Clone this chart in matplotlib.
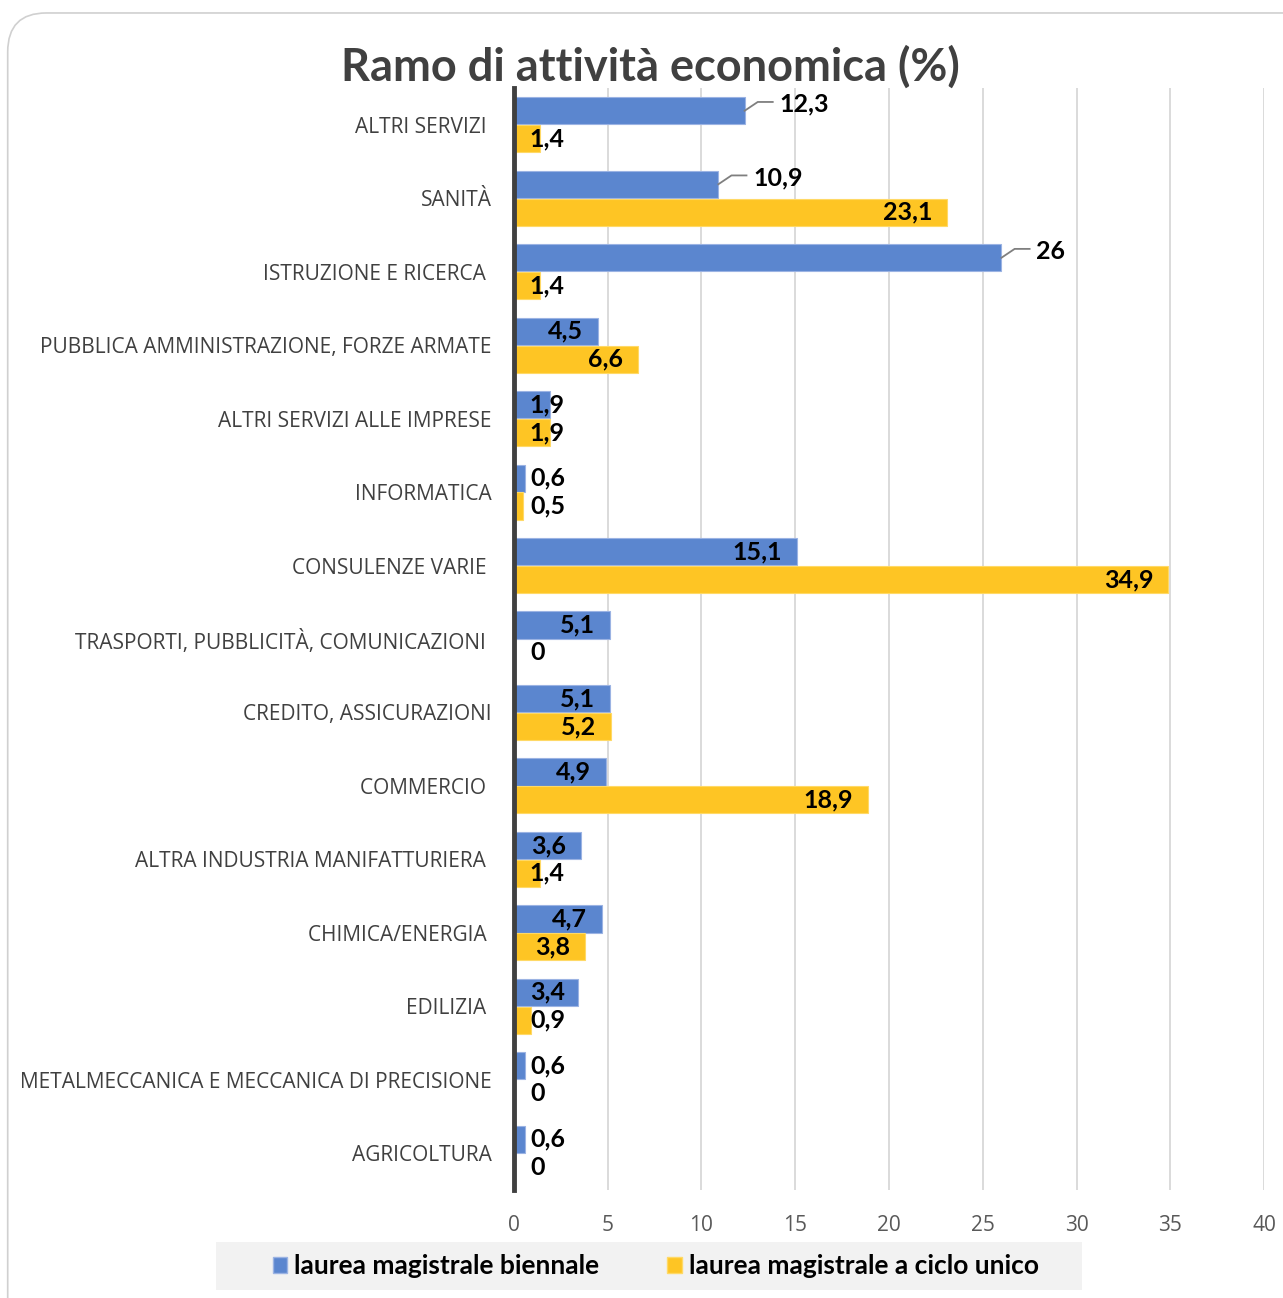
import matplotlib
matplotlib.use('Agg')
import matplotlib.pyplot as plt
from matplotlib.patches import FancyBboxPatch, Rectangle
import numpy as np

categories = ['ALTRI SERVIZI ', 'SANITÀ', 'ISTRUZIONE E RICERCA ',
              'PUBBLICA AMMINISTRAZIONE, FORZE ARMATE', 'ALTRI SERVIZI ALLE IMPRESE',
              'INFORMATICA', 'CONSULENZE VARIE ', 'TRASPORTI, PUBBLICITÀ, COMUNICAZIONI ',
              'CREDITO, ASSICURAZIONI', 'COMMERCIO ', 'ALTRA INDUSTRIA MANIFATTURIERA ',
              'CHIMICA/ENERGIA ', 'EDILIZIA ', 'METALMECCANICA E MECCANICA DI PRECISIONE',
              'AGRICOLTURA']
biennale = [12.3, 10.9, 26, 4.5, 1.9, 0.6, 15.1, 5.1, 5.1, 4.9, 3.6, 4.7, 3.4, 0.6, 0.6]
ciclo_unico = [1.4, 23.1, 1.4, 6.6, 1.9, 0.5, 34.9, 0, 5.2, 18.9, 1.4, 3.8, 0.9, 0, 0]
callouts = [0, 1, 2]  # blue labels drawn outside with leader line
xticks = [0, 5, 10, 15, 20, 25, 30, 35, 40]

BLUE = '#5B86CF'
YELLOW = '#FEC524'
TXT = '#404040'
LBL = 18

fig = plt.figure(figsize=(12.83, 12.98), dpi=100)
fig.patch.set_facecolor('white')

# rounded chart border + legend background (behind the axes)
fig.add_artist(FancyBboxPatch((0.006, -0.05), 1.05, 1.04, boxstyle='round,pad=0,rounding_size=0.03',
                              transform=fig.transFigure, facecolor='white',
                              edgecolor='#d0d0d0', linewidth=1.2, zorder=-2))
fig.add_artist(Rectangle((0.1684, 0.0062), 0.6749, 0.0369, transform=fig.transFigure,
                         facecolor='#f2f2f2', edgecolor='none', zorder=-1))

ax = fig.add_axes([0.4006, 0.0832, 0.5846, 0.849])
ax.set_facecolor('none')

y = np.arange(len(categories))
h = 0.37
off = 0.19
ax.barh(y - off, biennale, height=h, color=BLUE, edgecolor='#9bb3e3', linewidth=0.8, zorder=3)
ax.barh(y + off, ciclo_unico, height=h, color=YELLOW, edgecolor='#ffd966', linewidth=0.8, zorder=3)

ax.set_xlim(0, 40)
ax.set_ylim(len(categories) - 0.5, -0.5)
ax.set_xticks(xticks)
ax.set_xticklabels([str(t) for t in xticks], fontsize=15, color='#595959', family='Open Sans')
ax.set_yticks(y)
ax.set_yticklabels(categories, fontsize=15, color=TXT, family='Open Sans')
ax.tick_params(axis='y', length=0, pad=16)
ax.tick_params(axis='x', length=0, pad=18)
ax.grid(axis='x', color='#d4d4d4', linewidth=1.2, zorder=0)
for s in ['top', 'right', 'bottom']:
    ax.spines[s].set_visible(False)
ax.spines['left'].set_color('#404040')
ax.spines['left'].set_linewidth(3.5)
ax.spines['left'].set_zorder(5)


def fmt(v):
    return f'{v:g}'.replace('.', ',')


def put_label(v, yy):
    if v < 3.5:
        ax.text(0.85, yy, fmt(v), ha='left', va='center', fontsize=LBL,
                fontweight='bold', family='Lato', color='black', zorder=6)
    else:
        ax.text(v - 0.8, yy, fmt(v), ha='right', va='center', fontsize=LBL,
                fontweight='bold', family='Lato', color='black', zorder=6)


for i, v in enumerate(biennale):
    yy = y[i] - off
    if i in callouts:
        ax.plot([v, v + 0.7, v + 1.5], [yy, yy - 0.12, yy - 0.12], color='#7f7f7f', lw=1.3, zorder=4)
        ax.text(v + 1.85, yy - 0.09, fmt(v), ha='left', va='center', fontsize=LBL,
                fontweight='bold', family='Lato', color='black', zorder=6)
    else:
        put_label(v, yy)

for i, v in enumerate(ciclo_unico):
    put_label(v, y[i] + off)

fig.text(0.507, 0.938, 'Ramo di attività economica (%)', ha='center', va='baseline',
         fontsize=32.5, fontweight='bold', family='Lato', color=TXT)

hb = Rectangle((0, 0), 1, 1, facecolor=BLUE, edgecolor='#9bb3e3')
hy = Rectangle((0, 0), 1, 1, facecolor=YELLOW, edgecolor='#ffd966')
fig.legend([hb, hy], ['laurea magistrale biennale', 'laurea magistrale a ciclo unico'],
           loc='center', bbox_to_anchor=(0.511, 0.0247), ncol=2, frameon=False,
           handlelength=0.55, handleheight=0.55, handletextpad=0.25, columnspacing=2.6,
           prop={'family': 'Lato', 'weight': 'bold', 'size': 19})

fig.savefig('out.png', dpi=100)
